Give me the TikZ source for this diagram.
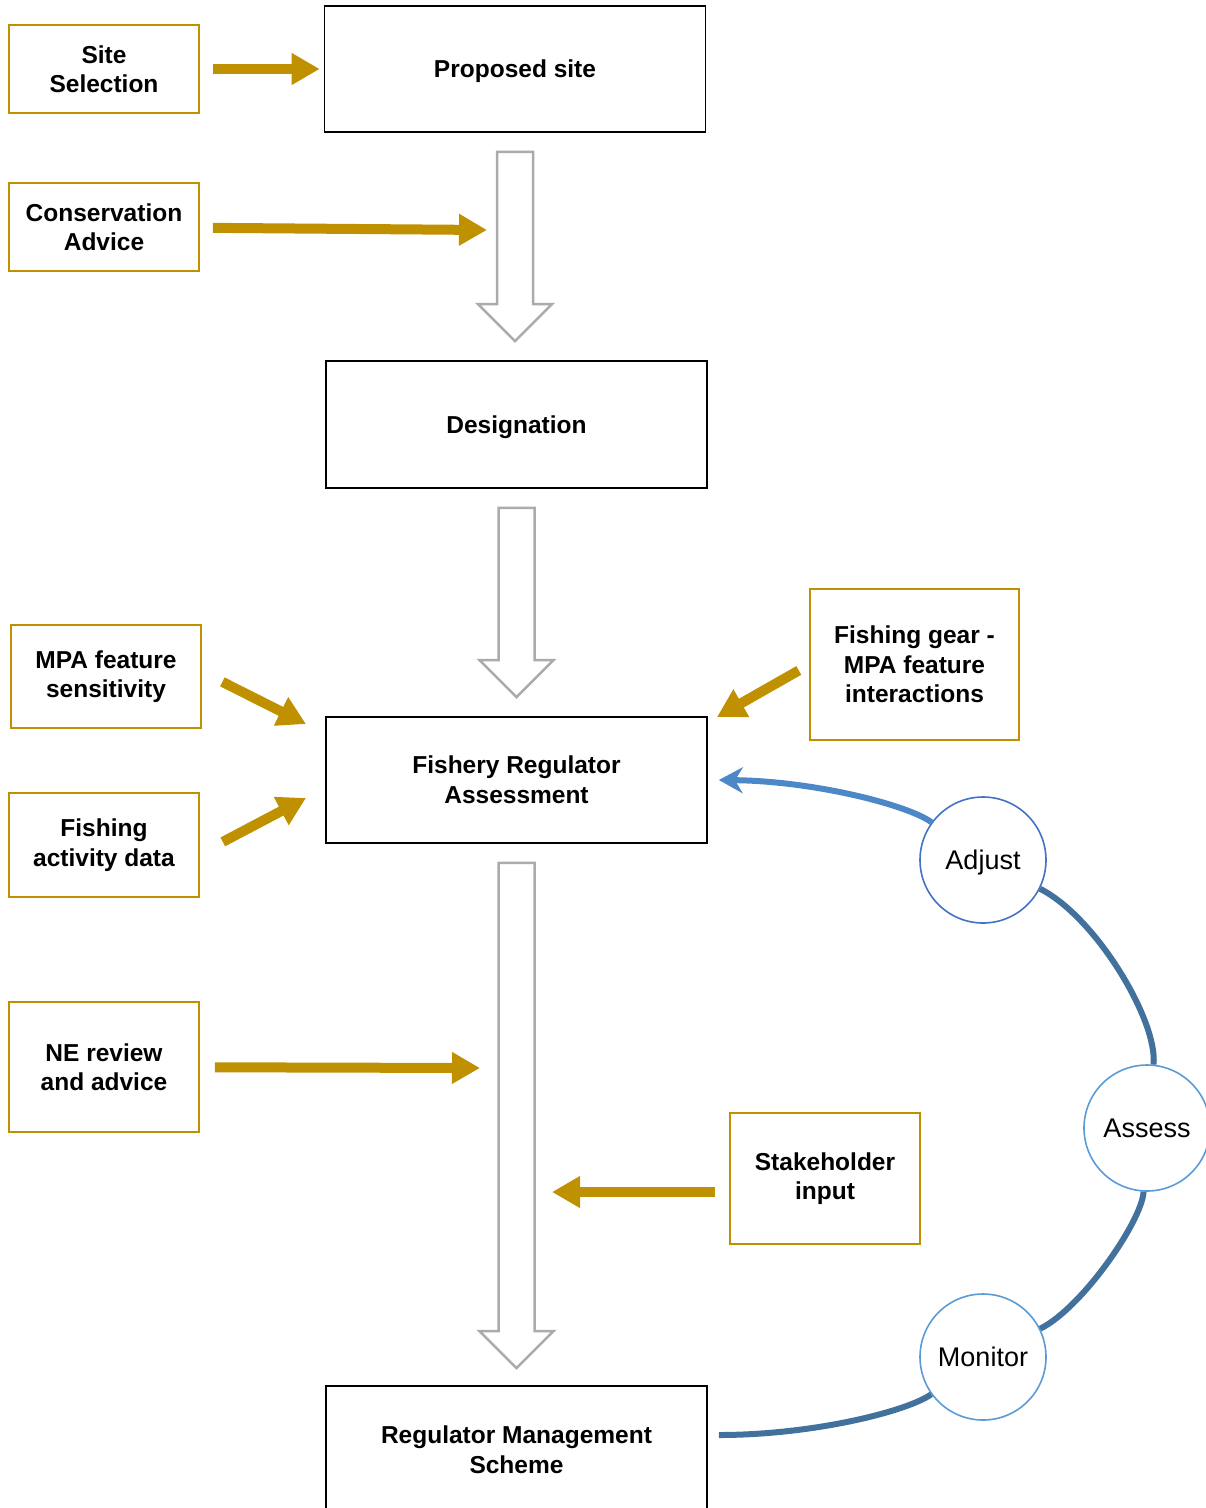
\documentclass[tikz,border=0pt]{standalone}
\usepackage{fontspec}
\setmainfont{Liberation Sans}
\usetikzlibrary{arrows.meta, calc}
\definecolor{gold}{HTML}{BF9000}
\definecolor{loopblue}{HTML}{41719C}
\definecolor{arrowblue}{HTML}{4C88C8}
\definecolor{ringblue}{HTML}{5B9BD5}
\definecolor{ringdeep}{HTML}{4472C4}
\definecolor{shaftgray}{HTML}{ABABAB}
\tikzset{
  mainbox/.style = {draw, line width=1.6pt, minimum width=381pt, minimum height=126pt, inner sep=0pt, align=center, font=\fontsize{24.5}{30}\selectfont\bfseries},
  inputbox/.style = {draw=gold, line width=1.6pt, minimum width=190pt, inner sep=0pt, align=center, font=\fontsize{24.5}{29.5}\selectfont\bfseries},
  stage/.style = {circle, draw=ringblue, line width=1.6pt, fill=white, minimum size=126pt, inner sep=0pt, font=\fontsize{27}{32}\selectfont},
  inputarrow/.style = {draw=gold, line width=10pt, -{Triangle[length=28pt, width=30pt]}},
  flowshaft/.style = {draw=shaftgray, line width=2.5pt, fill=white, line join=miter},
  adaptline/.style = {draw=loopblue, line width=6pt},
}
\begin{document}
\begin{tikzpicture}[x=1pt, y=-1pt]
        \clip (0,0) rectangle (1206,1508);
        % main steps
        \node[mainbox, text depth=0pt] (proposed) at (515,69) {Proposed site};
        \node[mainbox, text depth=0pt, minimum height=127pt] (designation) at (516.5,424.5) {Designation};
        \node[mainbox] (fra) at (516.5,780) {Fishery Regulator\\Assessment};
        \node[mainbox, minimum height=128pt] (rms) at (516.5,1450) {Regulator Management\\Scheme};
        % inputs
        \node[inputbox, minimum height=88pt] (site) at (104,69) {Site\\Selection};
        \node[inputbox, minimum height=88pt] (conservation) at (104,227) {Conservation\\Advice};
        \node[inputbox, minimum height=103pt] (mpa) at (106,676.5) {MPA feature\\sensitivity};
        \node[inputbox, minimum height=104pt] (fishing) at (104,845) {Fishing\\activity data};
        \node[inputbox, minimum height=130pt] (ne) at (104,1067) {NE review\\and advice};
        \node[inputbox, minimum width=209pt, minimum height=151pt] (gear) at (914.5,664.5) {Fishing gear -\\MPA feature\\interactions};
        \node[inputbox, minimum height=131pt] (stakeholder) at (825,1178.5) {Stakeholder\\input};
        % cycle
        \node[stage, draw=ringdeep, text depth=0pt] (adjust) at (983,860) {Adjust};
        \node[stage] (assess) at (1147,1128) {Assess};
        \node[stage] (monitor) at (983,1357) {Monitor};
        \coordinate (adviceend) at (487,230);
        \coordinate (mpaend) at (306,724);
        \coordinate (fishingend) at (306,798);
        \coordinate (reviewend) at (480,1068);
        \coordinate (gearend) at (717,717);
        \coordinate (inputend) at (552,1192);
        % block arrows
        \draw[flowshaft] let \p1 = (proposed.south), \p2 = (designation.north) in
            (\x1-18pt,\y1-19pt) -- (\x1+18pt,\y1-19pt) -- (\x1+18pt,\y2+56pt) -- (\x1+37pt,\y2+56pt)
            -- (\x1,\y2+19pt) -- (\x1-37pt,\y2+56pt) -- (\x1-18pt,\y2+56pt) -- cycle;
        \draw[flowshaft] let \p1 = (designation.south), \p2 = (fra.north) in
            (\x1-18pt,\y1-19pt) -- (\x1+18pt,\y1-19pt) -- (\x1+18pt,\y2+56pt) -- (\x1+37pt,\y2+56pt)
            -- (\x1,\y2+19pt) -- (\x1-37pt,\y2+56pt) -- (\x1-18pt,\y2+56pt) -- cycle;
        \draw[flowshaft] let \p1 = (fra.south), \p2 = (rms.north) in
            (\x1-18pt,\y1-19pt) -- (\x1+18pt,\y1-19pt) -- (\x1+18pt,\y2+54pt) -- (\x1+37pt,\y2+54pt)
            -- (\x1,\y2+17pt) -- (\x1-37pt,\y2+54pt) -- (\x1-18pt,\y2+54pt) -- cycle;
        % gold arrows
        \draw[inputarrow, shorten <=13pt, shorten >=4pt] (site) -- (proposed);
        \draw[inputarrow, shorten <=13pt] (conservation) -- (adviceend);
        \draw[inputarrow, shorten <=23pt] ([yshift=5pt]mpa.east) -- (mpaend);
        \draw[inputarrow, shorten <=26pt] ([yshift=-9pt]fishing.east) -- (fishingend);
        \draw[inputarrow, shorten <=15pt] (ne) -- (reviewend);
        \draw[inputarrow, shorten <=12pt] (gear.west) -- (gearend);
        \draw[inputarrow, shorten <=14pt] (stakeholder.west |- inputend) -- (inputend);
        % review loop
        \draw[adaptline] ([xshift=11pt, yshift=15pt]rms.east) .. controls (814,1435) and (908,1411) .. (monitor);
        \draw[adaptline] (monitor) .. controls (1082,1308) and (1142,1221) .. (assess);
        \draw[adaptline] (assess) .. controls (1158,1021) and (1096,917) .. (adjust);
        \draw[adaptline, draw=arrowblue, -{Stealth[length=24pt, width=26pt]}] (adjust) .. controls (908,805) and (814,781) .. ([xshift=11pt]fra.east);
    \end{tikzpicture}
\end{document}
